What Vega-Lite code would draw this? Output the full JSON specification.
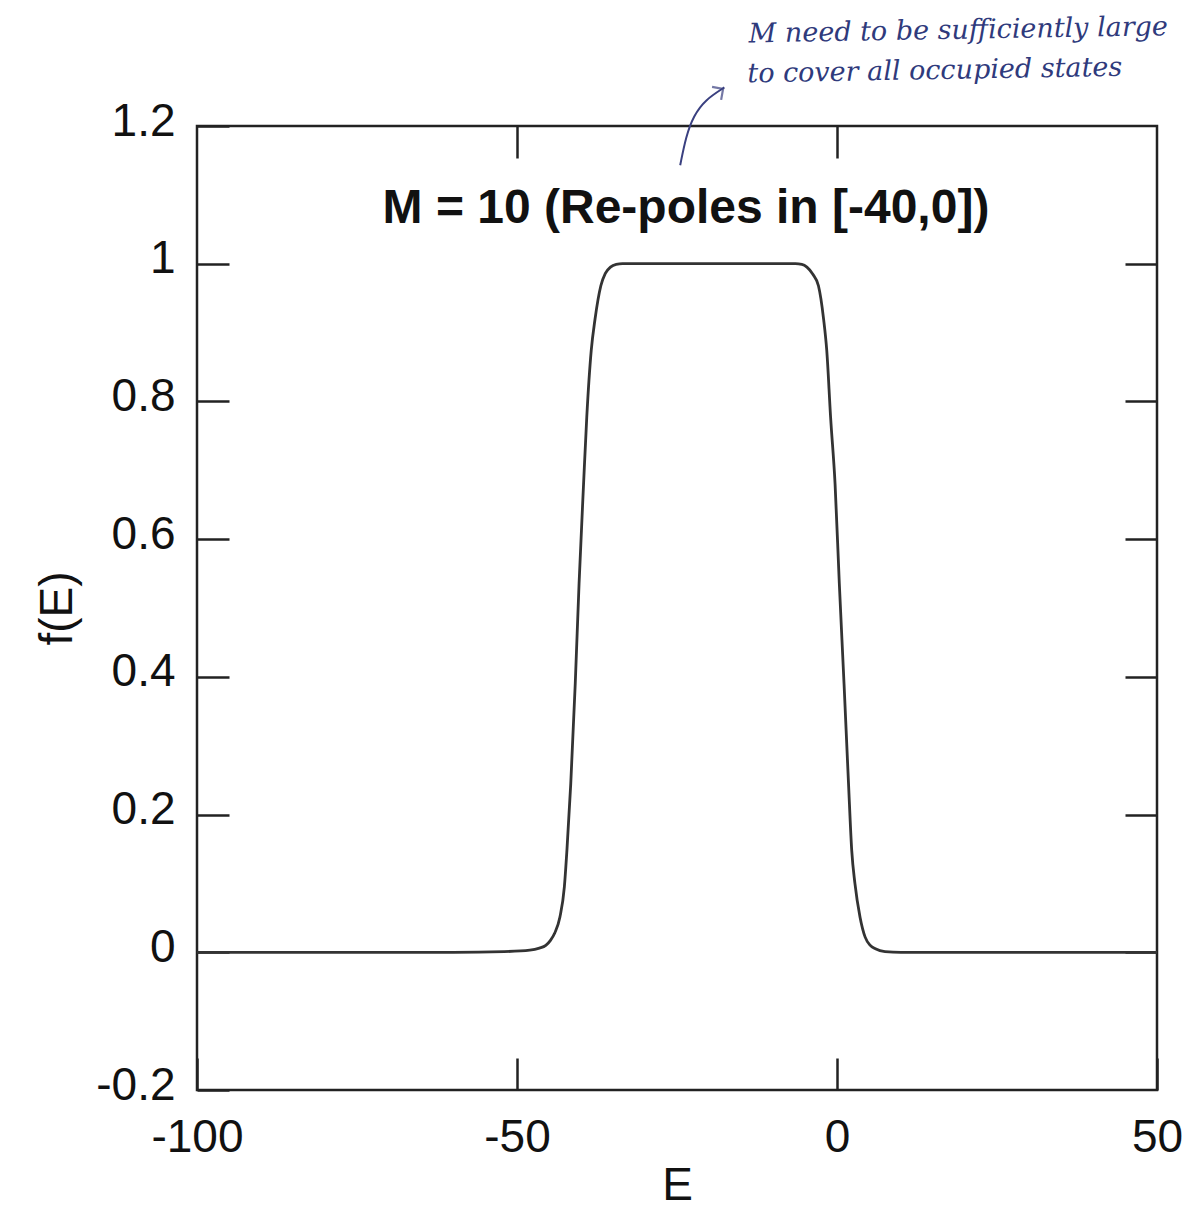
{
  "$schema": "https://vega.github.io/schema/vega-lite/v6.json",
  "width": 960,
  "height": 964,
  "autosize": {"type": "none"},
  "padding": {"left": 197, "top": 126, "right": 31, "bottom": 117},
  "background": "white",
  "config": {
    "view": {"stroke": "#222222", "strokeWidth": 2.5},
    "font": "Liberation Sans",
    "axis": {"grid": false, "domain": false, "tickColor": "#222222", "tickWidth": 2.5, "tickSize": -32,
             "labelFont": "Liberation Sans", "labelFontSize": 46, "labelColor": "#111111",
             "titleFont": "Liberation Sans", "titleFontSize": 46, "titleFontWeight": "normal", "titleColor": "#111111",
             "labelOverlap": false, "labelFlush": false}
  },
  "datasets": {
    "curve": [
      {"E": -100, "f": 0}, {"E": -80, "f": 0}, {"E": -60, "f": 0}, {"E": -52, "f": 0.001},
      {"E": -48, "f": 0.003}, {"E": -46.5, "f": 0.006}, {"E": -45.5, "f": 0.01}, {"E": -44.8, "f": 0.017},
      {"E": -44.1, "f": 0.028}, {"E": -43.3, "f": 0.051}, {"E": -42.6, "f": 0.095}, {"E": -42.2, "f": 0.148},
      {"E": -41.6, "f": 0.245}, {"E": -40.9, "f": 0.39}, {"E": -40.3, "f": 0.536}, {"E": -39.6, "f": 0.68},
      {"E": -39.1, "f": 0.777}, {"E": -38.4, "f": 0.874}, {"E": -37.8, "f": 0.92}, {"E": -36.9, "f": 0.968},
      {"E": -36.2, "f": 0.986}, {"E": -35.4, "f": 0.995}, {"E": -34.5, "f": 0.999}, {"E": -33.5, "f": 1.0},
      {"E": -20, "f": 1.0}, {"E": -6.5, "f": 1.0}, {"E": -5.5, "f": 0.999}, {"E": -4.7, "f": 0.995},
      {"E": -3.8, "f": 0.985}, {"E": -2.9, "f": 0.968}, {"E": -2.1, "f": 0.92}, {"E": -1.6, "f": 0.874},
      {"E": -1.0, "f": 0.777}, {"E": -0.3, "f": 0.68}, {"E": 0.36, "f": 0.536}, {"E": 1.1, "f": 0.39},
      {"E": 1.8, "f": 0.245}, {"E": 2.3, "f": 0.148}, {"E": 2.8, "f": 0.1}, {"E": 3.6, "f": 0.051},
      {"E": 4.4, "f": 0.022}, {"E": 5.2, "f": 0.01}, {"E": 6.0, "f": 0.005}, {"E": 7.5, "f": 0.001},
      {"E": 10, "f": 0}, {"E": 30, "f": 0}, {"E": 50, "f": 0}
    ],
    "arrow": [
      {"E": -24.5, "f": 1.143}, {"E": -23.6, "f": 1.185}, {"E": -22.4, "f": 1.215}, {"E": -20.6, "f": 1.238}, {"E": -17.6, "f": 1.256}
    ],
    "arrowhead": [{"E": -17.8, "f": 1.254}],
    "title": [{"E": -23.6, "f": 1.08, "label": "M = 10 (Re-poles in [-40,0])"}],
    "note": [
      {"E": -13.8, "f": 1.333, "label": "M need to be sufficiently large"},
      {"E": -14.0, "f": 1.275, "label": "to cover all occupied states"}
    ]
  },
  "layer": [
    {
      "data": {"name": "curve"},
      "mark": {"type": "line", "color": "#333333", "strokeWidth": 2.8, "interpolate": "monotone"},
      "encoding": {
        "x": {"field": "E", "type": "quantitative",
              "scale": {"domain": [-100, 50], "nice": false, "zero": false},
              "axis": {"orient": "bottom", "values": [-100, -50, 0, 50], "title": "E", "labelPadding": 57, "titlePadding": 3,
                       "labelExpr": "datum.value < 0 ? '-' + format(-datum.value, '~g') : format(datum.value, '~g')"}},
        "y": {"field": "f", "type": "quantitative",
              "scale": {"domain": [-0.2, 1.2], "nice": false, "zero": false},
              "axis": {"orient": "left", "values": [-0.2, 0, 0.2, 0.4, 0.6, 0.8, 1, 1.2], "title": "f(E)", "labelPadding": 54, "labelOffset": -5, "titlePadding": 14,
                       "labelExpr": "datum.value < 0 ? '-' + format(-datum.value, '~g') : format(datum.value, '~g')"}}
      }
    },
    {
      "data": {"name": "arrow"},
      "mark": {"type": "line", "color": "#3a4080", "strokeWidth": 2, "interpolate": "basis", "clip": false},
      "encoding": {
        "x": {"field": "E", "type": "quantitative",
              "axis": {"orient": "top", "values": [-50, 0], "labels": false, "title": null}},
        "y": {"field": "f", "type": "quantitative",
              "axis": {"orient": "right", "values": [0, 0.2, 0.4, 0.6, 0.8, 1], "labels": false, "title": null}}
      }
    },
    {
      "data": {"name": "arrowhead"},
      "mark": {"type": "point", "shape": "M-1,1 L0,0 L1,1", "filled": false, "color": "#3a4080", "strokeWidth": 2.2, "size": 250, "angle": 55, "clip": false},
      "encoding": {
        "x": {"field": "E", "type": "quantitative", "axis": null},
        "y": {"field": "f", "type": "quantitative", "axis": null}
      }
    },
    {
      "data": {"name": "title"},
      "mark": {"type": "text", "font": "Liberation Sans", "fontSize": 48, "fontWeight": "bold", "color": "#111111", "align": "center", "baseline": "middle"},
      "encoding": {
        "x": {"field": "E", "type": "quantitative", "axis": null},
        "y": {"field": "f", "type": "quantitative", "axis": null},
        "text": {"field": "label"}
      }
    },
    {
      "data": {"name": "note"},
      "mark": {"type": "text", "font": "DejaVu Serif", "fontStyle": "italic", "fontSize": 27, "color": "#2f3a7c", "align": "left", "baseline": "middle", "clip": false, "angle": -1},
      "encoding": {
        "x": {"field": "E", "type": "quantitative", "axis": null},
        "y": {"field": "f", "type": "quantitative", "axis": null},
        "text": {"field": "label"}
      }
    }
  ],
  "resolve": {"axis": {"x": "independent", "y": "independent"}}
}
